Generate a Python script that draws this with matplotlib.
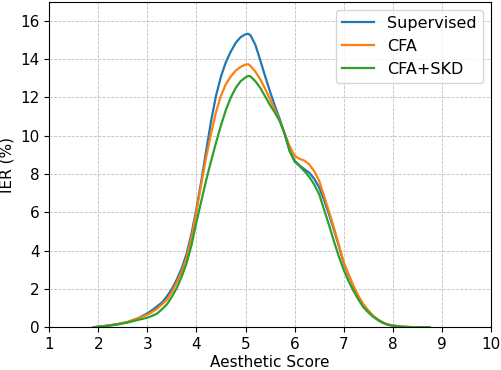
import numpy as np
import matplotlib
matplotlib.use("Agg")
import matplotlib.pyplot as plt

# score grid (x) and IER curves
score = [1.9, 2.0, 2.2, 2.4, 2.6, 2.8, 3.0, 3.1, 3.2, 3.3, 3.4, 3.5, 3.6, 3.7, 3.8, 3.9,
         4.0, 4.1, 4.2, 4.3, 4.4, 4.5, 4.6, 4.7, 4.8, 4.9, 5.0, 5.05, 5.1, 5.2, 5.3,
         5.4, 5.5, 5.6, 5.7, 5.8, 5.9, 6.0, 6.1, 6.2, 6.3, 6.4, 6.5, 6.6, 6.7, 6.8,
         6.9, 7.0, 7.1, 7.2, 7.3, 7.4, 7.5, 7.6, 7.7, 7.8, 7.9, 8.0, 8.2, 8.4, 8.6, 8.75]

supervised = [0.0, 0.03, 0.09, 0.17, 0.28, 0.46, 0.73, 0.9, 1.1, 1.3, 1.62, 2.0, 2.5,
              3.08, 3.85, 4.9, 6.2, 7.65, 9.25, 10.8, 12.1, 13.1, 13.85, 14.4, 14.85,
              15.15, 15.3, 15.33, 15.25, 14.75, 13.95, 13.1, 12.3, 11.55, 10.85, 10.05,
              9.2, 8.7, 8.45, 8.25, 8.07, 7.75, 7.3, 6.65, 5.9, 5.1, 4.25, 3.35, 2.72,
              2.12, 1.6, 1.18, 0.86, 0.59, 0.39, 0.24, 0.14, 0.09, 0.03, 0.01, 0.0, 0.0]

cfa = [0.0, 0.03, 0.09, 0.17, 0.28, 0.46, 0.66, 0.8, 0.97, 1.2, 1.45, 1.85, 2.35, 2.9,
       3.65, 4.7, 6.05, 7.5, 8.9, 10.15, 11.25, 12.1, 12.7, 13.1, 13.4, 13.6, 13.72,
       13.74, 13.65, 13.35, 12.95, 12.45, 11.9, 11.35, 10.75, 10.1, 9.45, 8.95, 8.8,
       8.7, 8.5, 8.15, 7.65, 6.85, 6.05, 5.2, 4.3, 3.4, 2.75, 2.15, 1.62, 1.2, 0.88,
       0.6, 0.4, 0.25, 0.15, 0.1, 0.03, 0.01, 0.0, 0.0]

cfa_skd = [0.0, 0.03, 0.08, 0.15, 0.25, 0.38, 0.5, 0.6, 0.72, 0.95, 1.2, 1.6, 2.05,
           2.65, 3.35, 4.3, 5.5, 6.6, 7.7, 8.7, 9.65, 10.55, 11.35, 12.0, 12.5,
           12.85, 13.05, 13.12, 13.1, 12.85, 12.5, 12.05, 11.6, 11.2, 10.75, 10.1, 9.2,
           8.65, 8.42, 8.15, 7.85, 7.45, 6.95, 6.15, 5.35, 4.5, 3.7, 3.0, 2.4, 1.9,
           1.45, 1.05, 0.78, 0.55, 0.37, 0.23, 0.13, 0.08, 0.02, 0.005, 0.0, 0.0]

fig = plt.figure(figsize=(5.02, 3.70), dpi=100)
ax = fig.add_axes([0.098, 0.1154, 0.880, 0.880])

ax.plot(score, supervised, color="#1f77b4", lw=1.6, label="Supervised")
ax.plot(score, cfa, color="#ff7f0e", lw=1.6, label="CFA")
ax.plot(score, cfa_skd, color="#2ca02c", lw=1.6, label="CFA+SKD")

ax.set_xlim(1, 10)
ax.set_ylim(0, 17)
ax.set_xticks(range(1, 11))
ax.set_yticks(range(0, 17, 2))
ax.tick_params(labelsize=11)
ax.grid(True, linestyle="--", color="#b0b0b0", linewidth=0.6, alpha=0.8)
ax.set_xlabel("Aesthetic Score", fontsize=11, labelpad=2)
ax.set_ylabel("IER (%)", fontsize=11)
ax.legend(loc="upper right", fontsize=11.5)

fig.savefig("out.png", dpi=100)
